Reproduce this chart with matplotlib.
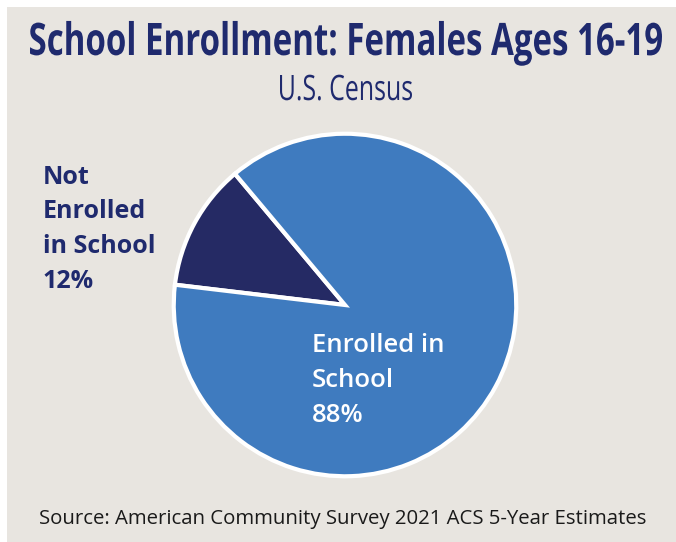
import matplotlib
matplotlib.use("Agg")
import matplotlib.pyplot as plt
from matplotlib.patches import Rectangle, PathPatch
from matplotlib.textpath import TextPath
from matplotlib.font_manager import FontProperties
from matplotlib.transforms import Affine2D

# data
labels = [["Not", "Enrolled", "in School"], ["Enrolled in", "School"]]
shares = [12, 88]
colors = ["#252a64", "#3f7bbf"]

title = "School Enrollment: Females Ages 16-19"
subtitle = "U.S. Census"
source = "Source: American Community Survey 2021 ACS 5-Year Estimates"

navy = "#1f2a6e"
W, H = 676, 542

fig = plt.figure(figsize=(W / 100, H / 100), dpi=100)
fig.patch.set_facecolor("white")
# beige panel (thin white strip on the top and left)
fig.add_artist(Rectangle((7 / W, 0), 1, (H - 7) / H, transform=fig.transFigure,
                         facecolor="#e8e5e0", edgecolor="none", zorder=0))

cx, cy, r = 345, 305, 173
ax = fig.add_axes([(cx - r) / W, (H - cy - r) / H, 2 * r / W, 2 * r / H])
ax.pie(shares, colors=colors, startangle=130, counterclock=True, radius=0.99,
       wedgeprops=dict(edgecolor="white", linewidth=3))
ax.set_xlim(-1, 1)
ax.set_ylim(-1, 1)
ax.axis("off")

# overlay in pixel units (y measured from the top)
over = fig.add_axes([0, 0, 1, 1])
over.set_xlim(0, W)
over.set_ylim(H, 0)
over.axis("off")
over.patch.set_alpha(0)


def squeezed(text, x0, x1, base, cap, weight, color):
    # condensed look: draw the glyph outlines and stretch them to fit x0..x1
    tp = TextPath((0, 0), text, size=100,
                  prop=FontProperties(family="Open Sans", weight=weight))
    bb = tp.get_extents()
    sx = (x1 - x0) / bb.width
    sy = cap / 71.4
    tr = Affine2D().translate(-bb.x0, 0).scale(sx, -sy).translate(x0, base)
    over.add_patch(PathPatch(tr.transform_path(tp), facecolor=color,
                             edgecolor="none", lw=0))


squeezed(title, 30, 662, 55, 32, "bold", navy)
squeezed(subtitle, 280, 412, 100, 25, "normal", navy)

# slice labels, one line per baseline
left_lines = labels[0] + [f"{shares[0]}%"]
for i, line in enumerate(left_lines):
    over.text(43, 184 + 34.5 * i, line, ha="left", va="baseline", color=navy,
              fontsize=18, fontweight="bold", family="Open Sans")
right_lines = labels[1] + [f"{shares[1]}%"]
for i, line in enumerate(right_lines):
    over.text(312, 352 + 35 * i, line, ha="left", va="baseline", color="white",
              fontsize=18.5, fontweight="semibold", family="Open Sans")

over.text(343, 519, source, ha="center", va="center", color="#1a1a1a",
          fontsize=14.7, family="Open Sans")

fig.savefig("out.png", dpi=100)
